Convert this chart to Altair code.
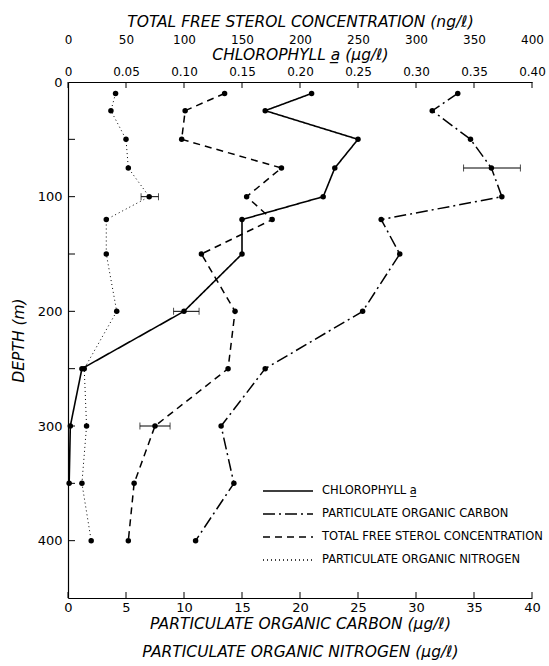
import altair as alt
import pandas as pd

# ---- data ----
depths = [10, 25, 50, 75, 100, 120, 150, 200, 250, 300, 350, 400]
chl_depths = [10, 25, 50, 75, 100, 120, 150, 200, 250, 300, 350]
chlorophyll = [0.21, 0.17, 0.25, 0.23, 0.22, 0.15, 0.15, 0.10, 0.012, 0.002, 0.001]
carbon = [33.6, 31.4, 34.7, 36.5, 37.4, 27.0, 28.6, 25.4, 17.0, 13.2, 14.3, 11.0]
nitrogen = [4.1, 3.7, 5.0, 5.2, 7.0, 3.3, 3.3, 4.2, 1.4, 1.6, 1.2, 2.0]
sterol = [135, 101, 98, 184, 154, 176, 115, 144, 138, 75, 57, 52]

carbon_err_depth, carbon_err_lo, carbon_err_hi = [75], [34.1], [39.0]
nitrogen_err_depth, nitrogen_err_lo, nitrogen_err_hi = [100], [6.3], [7.8]
chl_err_depth, chl_err_lo, chl_err_hi = [200], [0.091], [0.113]
sterol_err_depth, sterol_err_lo, sterol_err_hi = [300], [62], [88]

bottom_ticks = [0, 5, 10, 15, 20, 25, 30, 35, 40]
chl_ticks = [0, 0.05, 0.10, 0.15, 0.20, 0.25, 0.30, 0.35, 0.40]
sterol_ticks = [0, 50, 100, 150, 200, 250, 300, 350, 400]
depth_labels = [0, 100, 200, 300, 400]
depth_ticks = [50, 100, 150, 200, 250, 300, 350, 400]

S_CHL = "CHLOROPHYLL a\u0332"
S_C = "PARTICULATE ORGANIC CARBON"
S_ST = "TOTAL FREE STEROL CONCENTRATION"
S_N = "PARTICULATE ORGANIC NITROGEN"

FONT = "DejaVu Sans"
W, H = 464, 516

# ---- frames ----
df_c = pd.DataFrame({"depth": depths, "value": carbon, "series": S_C})
df_n = pd.DataFrame({"depth": depths, "value": nitrogen, "series": S_N})
df_chl = pd.DataFrame({"depth": chl_depths, "value": chlorophyll, "series": S_CHL})
df_st = pd.DataFrame({"depth": depths, "value": sterol, "series": S_ST})

err_c = pd.DataFrame({"depth": carbon_err_depth, "lo": carbon_err_lo, "hi": carbon_err_hi})
err_n = pd.DataFrame({"depth": nitrogen_err_depth, "lo": nitrogen_err_lo, "hi": nitrogen_err_hi})
err_chl = pd.DataFrame({"depth": chl_err_depth, "lo": chl_err_lo, "hi": chl_err_hi})
err_st = pd.DataFrame({"depth": sterol_err_depth, "lo": sterol_err_lo, "hi": sterol_err_hi})

df_xt = pd.DataFrame({"t": bottom_ticks})
df_yt = pd.DataFrame({"depth": depth_ticks})

dash_scale = alt.Scale(domain=[S_CHL, S_C, S_ST, S_N],
                       range=[[1, 0], [12, 4, 2, 4], [7, 5], [1, 3]])
yscale = alt.Scale(domain=[0, 450], reverse=True, nice=False, zero=False)

bottom_axis = alt.Axis(orient="bottom", values=bottom_ticks, ticks=False, labelPadding=3,
                       labelFlush=False, labelOverlap=False, labelFontSize=13,
                       title=[S_C + " (\u00b5g/\u2113)", S_N + " (\u00b5g/\u2113)"],
                       titlePadding=2, titleLineHeight=28)
chl_axis = alt.Axis(orient="top", values=chl_ticks, ticks=False, labelPadding=4,
                    labelFlush=False, labelOverlap=False,
                    labelExpr="datum.value == 0 ? '0' : format(datum.value, '.2f')",
                    title="CHLOROPHYLL a\u0332 (\u00b5g/\u2113)", titlePadding=3)
st_axis = alt.Axis(orient="top", values=sterol_ticks, ticks=False, domain=False, offset=32,
                   labelPadding=4, labelFlush=False, labelOverlap=False,
                   title="TOTAL FREE STEROL CONCENTRATION (ng/\u2113)", titlePadding=4)
y_axis = alt.Axis(values=depth_labels, ticks=False, labelPadding=6, labelFlush=False,
                  labelOverlap=False, title="DEPTH (m)", titlePadding=11, labelFontSize=13)

legend = alt.Legend(orient="none", legendX=209, legendY=398, title=None,
                    symbolType="M-2.5,0H2.5", symbolSize=400, symbolStrokeWidth=1.5,
                    symbolStrokeColor="black", labelFont=FONT, labelFontSize=11.5,
                    labelColor="black", labelOffset=23, rowPadding=6, padding=0,
                    labelLimit=400)


def Y():
    return alt.Y("depth:Q", scale=yscale, axis=y_axis)


def series_layer(df, err, domain, width, axis):
    xs = alt.Scale(domain=domain, nice=False, zero=False)

    def X(f):
        return alt.X(f"{f}:Q", scale=xs, axis=axis)

    line = alt.Chart(df).mark_line(color="black", strokeWidth=width).encode(
        x=X("value"), y=Y(), order=alt.Order("depth:Q"),
        strokeDash=alt.StrokeDash("series:N", scale=dash_scale, legend=legend),
    )
    pts = alt.Chart(df).mark_circle(color="black", size=30, opacity=1).encode(x=X("value"), y=Y())
    bar = alt.Chart(err).mark_rule(color="black", strokeWidth=1).encode(
        x=X("lo"), x2="hi:Q", y=Y())
    cap1 = alt.Chart(err).mark_tick(orient="vertical", color="black", size=7, thickness=1).encode(
        x=X("lo"), y=Y())
    cap2 = alt.Chart(err).mark_tick(orient="vertical", color="black", size=7, thickness=1).encode(
        x=X("hi"), y=Y())
    return [line, pts, bar, cap1, cap2]


cs = alt.Scale(domain=[0, 40], nice=False, zero=False)
top_ticks = alt.Chart(df_xt).mark_rule(color="black", strokeWidth=1).encode(
    x=alt.X("t:Q", scale=cs, axis=bottom_axis), y=alt.value(0), y2=alt.value(6))
bot_ticks = alt.Chart(df_xt).mark_rule(color="black", strokeWidth=1).encode(
    x=alt.X("t:Q", scale=cs, axis=bottom_axis), y=alt.value(H), y2=alt.value(H - 6))
left_ticks = alt.Chart(df_yt).mark_rule(color="black", strokeWidth=1).encode(
    y=Y(), x=alt.value(0), x2=alt.value(7))

layer_c = alt.layer(*(series_layer(df_c, err_c, [0, 40], 1.5, bottom_axis)
                      + series_layer(df_n, err_n, [0, 40], 1.0, bottom_axis)
                      + [top_ticks, bot_ticks, left_ticks]))
layer_chl = alt.layer(*series_layer(df_chl, err_chl, [0, 0.40], 1.6, chl_axis))
layer_st = alt.layer(*series_layer(df_st, err_st, [0, 400], 1.5, st_axis))

chart = alt.layer(layer_c, layer_chl, layer_st).resolve_scale(x="independent").properties(
    width=W, height=H,
    autosize=alt.AutoSizeParams(type="none"),
    padding={"left": 68, "top": 82, "right": 17, "bottom": 68},
    background="white",
).configure_view(stroke=None).configure_axis(
    domainColor="black", domainWidth=1.2, labelColor="black", titleColor="black",
    labelFont=FONT, titleFont=FONT, labelFontSize=12, titleFontSize=15.5,
    titleFontStyle="italic", titleFontWeight="normal", grid=False,
)

chart.save("out.html", embed_options={"renderer": "svg", "actions": False})
